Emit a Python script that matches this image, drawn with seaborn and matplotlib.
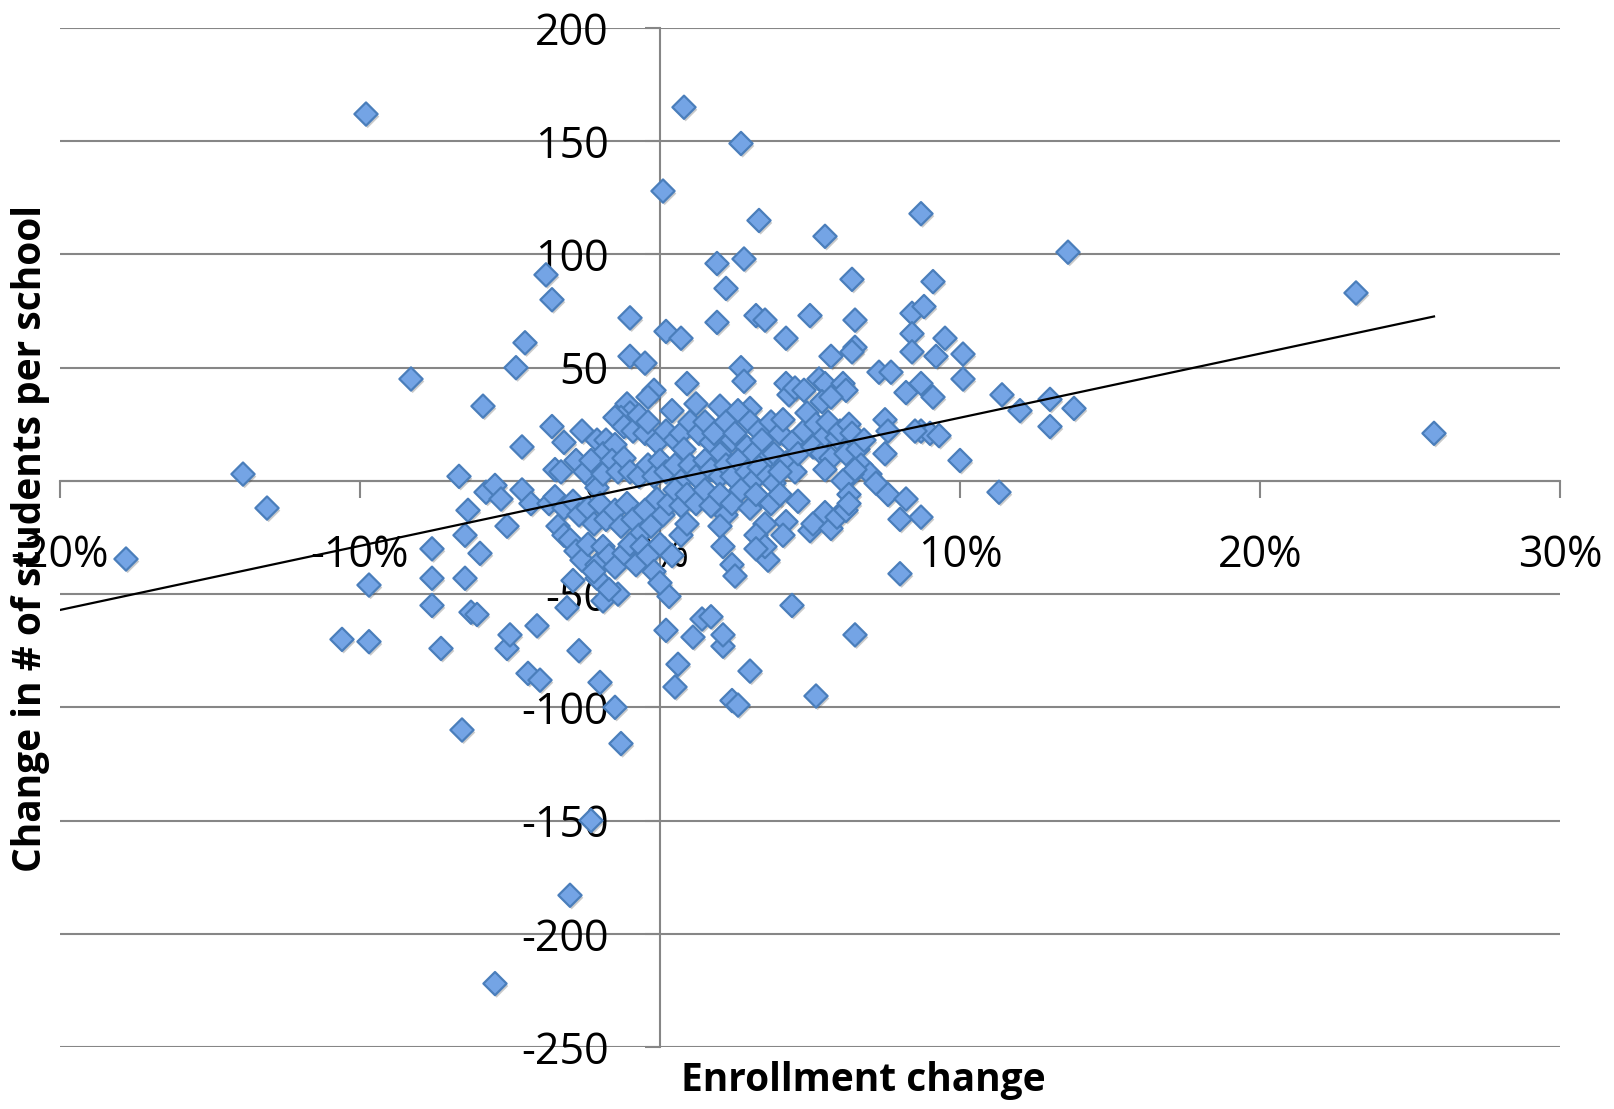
import numpy as np
import pandas as pd
import matplotlib
matplotlib.use("Agg")
import matplotlib.pyplot as plt
import matplotlib.patheffects as pe
from matplotlib.ticker import FuncFormatter
import seaborn as sns

# Points: (enrollment change in %, change in students per school)
left_points = [
    (-17.8, -34.5), (-13.9, 3), (-13.1, -12), (-9.8, 162), (-10.6, -70), (-9.7, -46),
    (-9.7, -71), (-8.3, 45), (-7.6, -30), (-7.6, -43), (-7.6, -55), (-7.3, -74),
    (-6.7, 2), (-6.6, -110), (-6.5, -24), (-6.5, -43), (-6.4, -13), (-6.3, -58),
    (-6.1, -59), (-6.0, -32), (-5.9, 33), (-5.8, -5), (-5.5, -2), (-5.5, -222),
    (-5.3, -8), (-5.1, -20), (-5.1, -74), (-5.0, -68), (-4.8, 50), (-4.6, -4),
    (-4.6, 15), (-4.5, 61), (-4.4, -85), (-4.3, -10), (-4.1, -64), (-4.0, -88),
    (-3.8, 91), (-3.7, -10), (-3.6, 80), (-3.6, 24), (-3.5, 5), (-3.4, -20),
    (-3.3, 4), (-3.2, 17), (-3.2, -24), (-3.1, -56), (-3.0, -183), (-2.9, -44),
    (-2.7, -75), (-2.6, 22), (-2.3, -150), (-2.2, 0), (-2.1, -3), (-2.0, -89),
    (-1.9, -53), (-1.5, -100), (-1.4, -50), (-1.3, -116), (-1.0, 72), (-1.0, 55),
    (-0.5, 52),
]

right_points = [
    (0.1, 128), (0.2, 66), (0.8, 165), (0.7, 63), (0.2, -66), (0.3, -51), (0.5, -91),
    (0.6, -81), (1.1, -69), (1.4, -61), (1.7, -60), (1.9, 70), (1.9, 96), (2.2, 85),
    (2.1, -73), (2.1, -68), (2.4, -97), (2.6, -99), (2.4, -37), (2.5, -42), (2.7, 149),
    (2.8, 98), (3.0, -84), (3.3, 115), (3.2, 73), (3.5, 71), (3.6, -35), (4.2, 63),
    (4.4, -55), (5.0, 73), (5.2, -95), (5.5, 108), (5.7, 55), (6.4, 89), (6.5, 71),
    (6.5, -68), (6.5, 59), (6.4, 57), (7.3, 48), (7.7, 48), (8.0, -41), (8.4, 74),
    (8.4, 65), (8.4, 57), (8.7, 118), (8.8, 77), (9.1, 88), (9.2, 55), (9.1, 37),
    (9.5, 63), (10.1, 56), (10.1, 45), (10.0, 9), (11.3, -5), (11.4, 38), (12.0, 31),
    (13.0, 36), (13.0, 24), (13.6, 101), (13.8, 32), (23.2, 83), (25.8, 21),
]

upper_cluster = [
    (-1.1, 34), (-1.0, 30), (-1.3, 28), (-0.2, 40), (-0.4, 37), (0.9, 43), (2.7, 50),
    (2.8, 44), (3.0, 32), (4.2, 43), (4.3, 38), (4.5, 41), (4.8, 40), (5.3, 45),
    (5.5, 43), (6.1, 43), (6.2, 40), (5.4, 35), (5.7, 37), (7.5, 27), (8.2, 39),
    (8.7, 43), (8.7, 22), (9.0, 21), (9.3, 20), (7.6, 22), (7.5, 12), (8.5, 22),
]

mid_cluster = [
    (-2.1, 18), (-1.8, 18), (-1.5, 28), (-1.9, 12), (-1.5, 16), (-1.2, 24), (-0.9, 22),
    (-0.7, 29), (-0.5, 21), (-0.4, 26), (-0.1, 17), (0.2, 22), (0.4, 31), (0.5, 18),
    (0.7, 21), (0.8, 14), (1.0, 26), (1.2, 34), (1.3, 21), (1.5, 26), (1.7, 17),
    (1.8, 21), (2.0, 33), (2.0, 12), (2.2, 26), (2.4, 18), (2.5, 21), (2.6, 31),
    (2.9, 15), (3.0, 26), (3.1, 12), (3.3, 22), (3.4, 18), (3.5, 9), (3.7, 26),
    (3.8, 12), (4.0, 21), (4.1, 27), (4.2, 8), (4.4, 17), (4.5, 4), (4.6, 12),
    (4.8, 22), (4.9, 30), (5.1, 15), (5.2, 25), (5.4, 12), (5.5, 20), (5.6, 26),
    (5.7, 10), (5.9, 19), (6.0, 22), (6.2, 12), (6.3, 25), (6.4, 21), (6.6, 14),
    (6.7, 7), (6.8, 18), (7.0, 3), (7.2, -1), (6.4, 3), (5.5, 5), (6.1, 0), (6.3, -6),
    (6.5, 5),
]

zero_band = [
    (-2.8, 9), (-2.5, 4), (-2.3, 9), (-1.9, 3), (-1.6, 9), (-1.4, 4), (-1.2, 10),
    (-1.0, 4), (-0.7, 2), (-0.4, 7), (-0.2, 2), (0.0, 9), (0.2, 4), (0.5, 7), (0.7, 0),
    (1.0, 7), (1.2, 2), (1.5, 9), (1.7, 5), (2.0, 2), (2.2, 7), (2.4, 2), (2.6, 9),
    (2.9, 4), (3.1, 0), (3.3, 6), (3.6, 2), (3.8, -1), (4.0, 4),
]

lower_cluster = [
    (-3.5, -7), (-3.2, -12), (-2.9, -9), (-2.7, -15), (-2.4, -12), (-2.2, -19),
    (-2.0, -10), (-1.8, -17), (-1.5, -13), (-1.3, -20), (-1.1, -10), (-0.9, -17),
    (-0.7, -24), (-0.5, -13), (-0.3, -20), (-0.1, -8), (0.1, -15), (0.3, -10),
    (0.5, -4), (0.7, -11), (0.9, -6), (1.2, -10), (1.5, -4), (1.7, -11), (2.0, -6),
    (2.2, -15), (2.4, -10), (2.7, -4), (3.0, -12), (3.2, -6), (3.5, -19), (3.7, -10),
    (4.0, -6), (4.2, -18), (4.6, -9), (5.0, -22), (5.1, -19), (5.5, -14), (5.7, -21),
    (5.9, -16), (6.2, -13), (6.3, -10), (7.6, -6), (8.2, -8), (8.7, -16), (8.0, -17),
    (-3.0, -26), (-2.8, -31), (-2.6, -35), (-2.4, -28), (-2.1, -37), (-1.9, -29),
    (-1.7, -33), (-1.5, -38), (-1.2, -32), (-1.0, -28), (-0.8, -37), (-0.6, -29),
    (-0.4, -33), (-0.2, -40), (0.0, -45), (0.0, -28), (0.4, -33), (0.7, -24),
    (0.9, -19), (-2.1, -43), (-1.7, -48), (-2.2, -40), (2.0, -20), (2.1, -29),
    (3.2, -24), (3.5, -29), (4.1, -24), (3.2, -30),
]

# Excel linear trendline as shown in the chart (students per % point, intercept)
trend_slope = 2.83
trend_intercept = -0.4

y_ticks = [200, 150, 100, 50, 0, -50, -100, -150, -200, -250]
x_ticks = [-20, -10, 0, 10, 20, 30]

all_points = left_points + right_points + upper_cluster + mid_cluster + zero_band + lower_cluster
df = pd.DataFrame(all_points, columns=["Enrollment change", "Student change"])

plt.rcParams["axes.unicode_minus"] = False
plt.rcParams["font.family"] = ["Open Sans", "DejaVu Sans"]

fig = plt.figure(figsize=(16.14, 11.09), dpi=100)
ax = fig.add_axes([60 / 1614, 1 - 1047 / 1109, 1500 / 1614, 1019 / 1109])

grid_color = "#868686"
for yv in y_ticks:
    ax.axhline(yv, color=grid_color, lw=1.5, zorder=0.5)

sns.scatterplot(data=df, x="Enrollment change", y="Student change", ax=ax,
                marker="D", s=140, color="#74a4e5", edgecolor="#4a7ebb",
                linewidth=1.6, zorder=2, legend=False)
ax.collections[-1].set_path_effects([
    pe.SimplePatchShadow(offset=(1.2, -1.8), alpha=0.28, shadow_rgbFace="#444444"),
    pe.Normal(),
])

ax.set_xlim(-20, 30)
ax.set_ylim(-250, 200)

# trend line from the left edge to the last data point
xs = np.array([-20, df["Enrollment change"].max()])
ax.plot(xs, trend_slope * xs + trend_intercept, color="black", lw=1.6, zorder=3)

for side in ["top", "right"]:
    ax.spines[side].set_visible(False)
ax.spines["left"].set_position(("data", 0))
ax.spines["bottom"].set_position(("data", 0))
for side in ["left", "bottom"]:
    ax.spines[side].set_color(grid_color)
    ax.spines[side].set_linewidth(1.5)
    ax.spines[side].set_zorder(0.5)

ax.set_xticks(x_ticks)
ax.set_yticks(y_ticks)
ax.xaxis.set_major_formatter(FuncFormatter(lambda v, p: f"{v:.0f}%"))
ax.yaxis.set_major_formatter(FuncFormatter(lambda v, p: f"{v:.0f}"))
ax.tick_params(axis="y", direction="out", length=11, width=1.5, color=grid_color,
               pad=26, labelsize=31)
ax.tick_params(axis="x", direction="out", length=12, width=1.5, color=grid_color,
               pad=26, labelsize=31)
ax.set_xlabel("")
ax.set_ylabel("")
ax.patch.set_alpha(0)

fig.text(31 / 1614, 1 - 539 / 1109, "Change in # of students per school",
         rotation=90, ha="center", va="center", fontsize=28, fontweight="bold")
fig.text(863 / 1614, 1 - 1081 / 1109, "Enrollment change",
         ha="center", va="center", fontsize=28, fontweight="bold")

fig.savefig("out.png", dpi=100)
